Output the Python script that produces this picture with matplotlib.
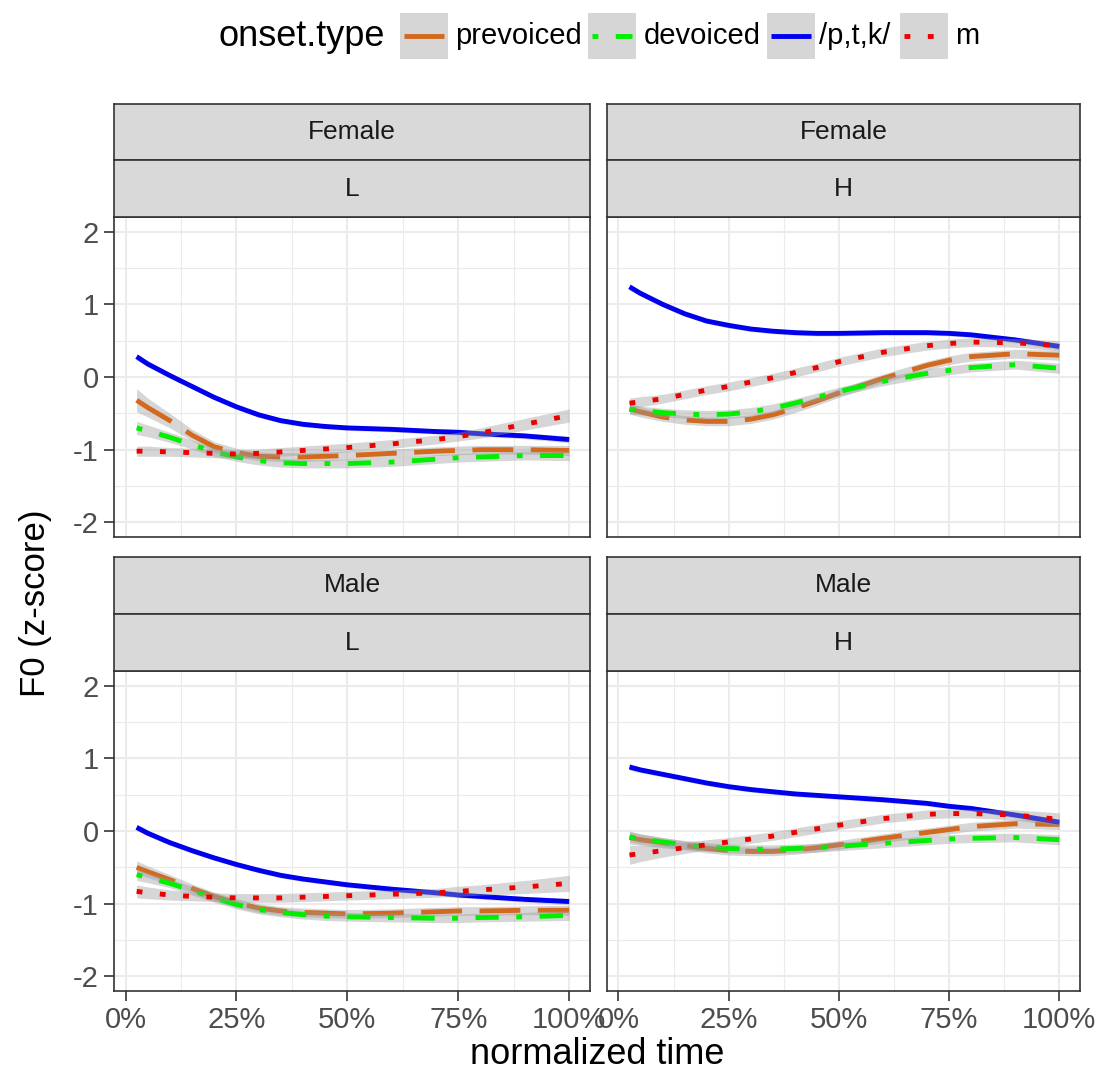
import numpy as np
import matplotlib
matplotlib.use("Agg")
import matplotlib.pyplot as plt
from matplotlib.patches import Rectangle
from matplotlib.lines import Line2D

# ---------------- data ----------------
time = [0.025, 0.05, 0.1, 0.15, 0.2, 0.25, 0.3, 0.35, 0.4, 0.45, 0.5, 0.6, 0.7, 0.75, 0.8, 0.9, 1.0]

onset_types = ["prevoiced", "devoiced", "/p,t,k/", "m"]
sex_levels = ["Female", "Male"]
tone_levels = ["L", "H"]

x_ticks = [0.0, 0.25, 0.5, 0.75, 1.0]
x_tick_labels = ["0%", "25%", "50%", "75%", "100%"]
y_ticks = [-2, -1, 0, 1, 2]
y_tick_labels = ["-2", "-1", "0", "1", "2"]

# Female, L
fl_prevoiced = [-0.32, -0.42, -0.60, -0.80, -0.96, -1.04, -1.09, -1.10, -1.10, -1.09, -1.08, -1.05, -1.02, -1.01, -1.00, -1.00, -1.01]
fl_devoiced  = [-0.70, -0.74, -0.83, -0.93, -1.03, -1.10, -1.15, -1.18, -1.19, -1.19, -1.19, -1.17, -1.13, -1.11, -1.10, -1.08, -1.08]
fl_ptk       = [0.28, 0.18, 0.02, -0.13, -0.28, -0.41, -0.52, -0.60, -0.65, -0.68, -0.70, -0.72, -0.75, -0.76, -0.78, -0.81, -0.86]
fl_m         = [-1.02, -1.02, -1.03, -1.04, -1.05, -1.06, -1.05, -1.03, -1.01, -0.99, -0.97, -0.92, -0.86, -0.82, -0.77, -0.65, -0.53]
# Female, H
fh_prevoiced = [-0.44, -0.48, -0.55, -0.59, -0.61, -0.61, -0.58, -0.52, -0.43, -0.33, -0.22, -0.02, 0.16, 0.23, 0.28, 0.32, 0.30]
fh_devoiced  = [-0.44, -0.46, -0.49, -0.51, -0.52, -0.51, -0.48, -0.43, -0.36, -0.28, -0.20, -0.06, 0.05, 0.09, 0.13, 0.17, 0.12]
fh_ptk       = [1.24, 1.15, 1.00, 0.87, 0.77, 0.71, 0.66, 0.63, 0.61, 0.60, 0.60, 0.61, 0.61, 0.60, 0.58, 0.51, 0.42]
fh_m         = [-0.36, -0.34, -0.30, -0.24, -0.18, -0.13, -0.07, -0.01, 0.06, 0.13, 0.21, 0.34, 0.43, 0.46, 0.48, 0.47, 0.43]
# Male, L
ml_prevoiced = [-0.50, -0.56, -0.67, -0.79, -0.90, -0.99, -1.06, -1.10, -1.12, -1.13, -1.14, -1.13, -1.11, -1.10, -1.10, -1.09, -1.09]
ml_devoiced  = [-0.60, -0.64, -0.72, -0.82, -0.92, -1.01, -1.08, -1.12, -1.15, -1.17, -1.18, -1.19, -1.20, -1.20, -1.19, -1.18, -1.16]
ml_ptk       = [0.05, -0.03, -0.16, -0.27, -0.37, -0.46, -0.54, -0.61, -0.66, -0.70, -0.74, -0.80, -0.85, -0.88, -0.90, -0.94, -0.97]
ml_m         = [-0.83, -0.85, -0.88, -0.90, -0.91, -0.92, -0.92, -0.92, -0.91, -0.90, -0.89, -0.87, -0.85, -0.83, -0.81, -0.77, -0.72]
# Male, H
mh_prevoiced = [-0.09, -0.12, -0.16, -0.20, -0.24, -0.27, -0.28, -0.28, -0.26, -0.23, -0.19, -0.10, -0.02, 0.02, 0.06, 0.10, 0.09]
mh_devoiced  = [-0.08, -0.11, -0.15, -0.19, -0.22, -0.24, -0.25, -0.25, -0.24, -0.23, -0.21, -0.17, -0.13, -0.11, -0.10, -0.09, -0.12]
mh_ptk       = [0.88, 0.84, 0.78, 0.72, 0.66, 0.61, 0.57, 0.54, 0.51, 0.49, 0.47, 0.43, 0.38, 0.34, 0.31, 0.22, 0.12]
mh_m         = [-0.33, -0.31, -0.27, -0.23, -0.19, -0.15, -0.11, -0.07, -0.02, 0.03, 0.08, 0.17, 0.23, 0.24, 0.24, 0.22, 0.16]

# standard-error half widths of the smooth ribbons
fl_prevoiced_se = [0.16, 0.13, 0.10, 0.08, 0.07, 0.06, 0.06, 0.06, 0.06, 0.06, 0.06, 0.06, 0.06, 0.06, 0.06, 0.06, 0.07]
fl_devoiced_se  = [0.09, 0.08, 0.07, 0.06, 0.06, 0.06, 0.06, 0.06, 0.06, 0.06, 0.06, 0.06, 0.06, 0.06, 0.06, 0.06, 0.07]
fl_ptk_se       = [0.045, 0.04, 0.035, 0.035, 0.035, 0.035, 0.035, 0.035, 0.035, 0.035, 0.035, 0.035, 0.035, 0.035, 0.035, 0.04, 0.045]
fl_m_se         = [0.07, 0.07, 0.06, 0.06, 0.06, 0.06, 0.06, 0.06, 0.06, 0.06, 0.06, 0.06, 0.06, 0.06, 0.07, 0.08, 0.09]
fh_prevoiced_se = [0.07, 0.07, 0.06, 0.06, 0.06, 0.06, 0.06, 0.06, 0.06, 0.06, 0.06, 0.06, 0.06, 0.06, 0.06, 0.06, 0.07]
fh_devoiced_se  = [0.07, 0.06, 0.06, 0.06, 0.06, 0.06, 0.06, 0.06, 0.06, 0.06, 0.06, 0.06, 0.06, 0.06, 0.06, 0.06, 0.07]
fh_ptk_se       = [0.045, 0.04, 0.035, 0.035, 0.035, 0.035, 0.035, 0.035, 0.035, 0.035, 0.035, 0.035, 0.035, 0.035, 0.035, 0.04, 0.045]
fh_m_se         = [0.07, 0.07, 0.06, 0.06, 0.06, 0.06, 0.06, 0.06, 0.06, 0.06, 0.06, 0.06, 0.06, 0.06, 0.06, 0.06, 0.07]
ml_prevoiced_se = [0.09, 0.08, 0.07, 0.06, 0.06, 0.06, 0.06, 0.06, 0.06, 0.06, 0.06, 0.06, 0.06, 0.06, 0.06, 0.06, 0.07]
ml_devoiced_se  = [0.08, 0.07, 0.06, 0.06, 0.06, 0.06, 0.06, 0.06, 0.06, 0.06, 0.06, 0.06, 0.06, 0.06, 0.06, 0.06, 0.07]
ml_ptk_se       = [0.045, 0.04, 0.035, 0.035, 0.035, 0.035, 0.035, 0.035, 0.035, 0.035, 0.035, 0.035, 0.035, 0.035, 0.035, 0.04, 0.045]
ml_m_se         = [0.09, 0.08, 0.07, 0.06, 0.06, 0.06, 0.06, 0.06, 0.06, 0.06, 0.06, 0.06, 0.06, 0.07, 0.07, 0.09, 0.11]
mh_prevoiced_se = [0.09, 0.08, 0.07, 0.06, 0.06, 0.06, 0.06, 0.06, 0.06, 0.06, 0.06, 0.06, 0.06, 0.06, 0.06, 0.06, 0.07]
mh_devoiced_se  = [0.07, 0.07, 0.06, 0.06, 0.06, 0.06, 0.06, 0.06, 0.06, 0.06, 0.06, 0.06, 0.06, 0.06, 0.06, 0.06, 0.07]
mh_ptk_se       = [0.045, 0.04, 0.035, 0.035, 0.035, 0.035, 0.035, 0.035, 0.035, 0.035, 0.035, 0.035, 0.035, 0.035, 0.035, 0.04, 0.045]
mh_m_se         = [0.13, 0.11, 0.09, 0.08, 0.07, 0.06, 0.06, 0.06, 0.06, 0.06, 0.06, 0.06, 0.06, 0.06, 0.06, 0.07, 0.09]

panels = {
    ("Female", "L"): ([fl_prevoiced, fl_devoiced, fl_ptk, fl_m],
                      [fl_prevoiced_se, fl_devoiced_se, fl_ptk_se, fl_m_se]),
    ("Female", "H"): ([fh_prevoiced, fh_devoiced, fh_ptk, fh_m],
                      [fh_prevoiced_se, fh_devoiced_se, fh_ptk_se, fh_m_se]),
    ("Male", "L"): ([ml_prevoiced, ml_devoiced, ml_ptk, ml_m],
                    [ml_prevoiced_se, ml_devoiced_se, ml_ptk_se, ml_m_se]),
    ("Male", "H"): ([mh_prevoiced, mh_devoiced, mh_ptk, mh_m],
                    [mh_prevoiced_se, mh_devoiced_se, mh_ptk_se, mh_m_se]),
}

# ---------------- style ----------------
plt.rcParams["font.family"] = ["Liberation Sans", "DejaVu Sans"]
plt.rcParams["lines.scale_dashes"] = False

W, H = 1101, 1077
fig = plt.figure(figsize=(W / 100, H / 100), dpi=100)
fig.patch.set_facecolor("white")

colors = ["#D2691E", "#00EE00", "#0000EE", "#EE0000"]
U = 4.2  # dash unit in points
styles = [(0, (7 * U, 3 * U)), (0, (U, 3 * U, 4 * U, 3 * U)), "solid", (0, (U, 3 * U))]
LW = 3.5

TICK_COLOR = "#4D4D4D"
FRAME = "#333333"
GRID = "#EBEBEB"
STRIP_FILL = "#D9D9D9"
RIBBON = "#999999"


def fig_rect(x0, y0, x1, y1):
    return [x0 / W, 1 - y1 / H, (x1 - x0) / W, (y1 - y0) / H]


col_x = [(114, 590), (607, 1080)]
row_axes_y = [(217, 537), (671, 991)]
row_strip_y = [((104, 160), (160, 217)), ((557, 614), (614, 671))]

for ri, sex in enumerate(sex_levels):
    for ci, tone in enumerate(tone_levels):
        x0, x1 = col_x[ci]
        y0, y1 = row_axes_y[ri]
        ax = fig.add_axes(fig_rect(x0, y0, x1, y1))
        ax.set_facecolor("white")
        ax.set_xlim(-0.026, 1.047)
        ax.set_ylim(-2.2, 2.2)
        ax.set_xticks(x_ticks)
        ax.set_xticks([0.125, 0.375, 0.625, 0.875], minor=True)
        ax.set_yticks(y_ticks)
        ax.set_yticks([-1.5, -0.5, 0.5, 1.5], minor=True)
        ax.grid(True, which="major", color=GRID, lw=1.5, zorder=0)
        ax.grid(True, which="minor", color=GRID, lw=0.8, zorder=0)
        ax.set_axisbelow(True)
        for s in ax.spines.values():
            s.set_color(FRAME)
            s.set_linewidth(1.2)
        ax.tick_params(which="minor", length=0)
        ax.tick_params(which="major", length=7, width=1.2, color=FRAME,
                       labelsize=21, labelcolor=TICK_COLOR, pad=4)
        if ri == 1:
            ax.set_xticklabels(x_tick_labels)
        else:
            ax.tick_params(axis="x", which="both", bottom=False, labelbottom=False)
        if ci == 0:
            ax.set_yticklabels(y_tick_labels)
        else:
            ax.tick_params(axis="y", which="both", left=False, labelleft=False)

        ys, ses = panels[(sex, tone)]
        t = np.array(time)
        for k in range(len(onset_types)):
            y = np.array(ys[k])
            se = np.array(ses[k])
            ax.fill_between(t, y - se, y + se, color=RIBBON, alpha=0.4, lw=0, zorder=2 + 2 * k)
            ax.plot(t, y, color=colors[k], linestyle=styles[k], lw=LW,
                    solid_capstyle="butt", dash_capstyle="butt",
                    solid_joinstyle="round", zorder=3 + 2 * k)

        # strips
        for si, (sy0, sy1) in enumerate(row_strip_y[ri]):
            sax = fig.add_axes(fig_rect(x0, sy0, x1, sy1))
            sax.set_facecolor(STRIP_FILL)
            sax.set_xticks([])
            sax.set_yticks([])
            for s in sax.spines.values():
                s.set_color(FRAME)
                s.set_linewidth(1.2)
            label = sex if si == 0 else tone
            sax.text(0.5, 0.5, label, ha="center", va="center", fontsize=19,
                     color="#1A1A1A", transform=sax.transAxes)

# axis titles
fig.text(36 / W, 1 - 603 / H, "F0 (z-score)", rotation=90, ha="center", va="center",
         fontsize=25, color="black")
fig.text(597 / W, 1 - 1064 / H, "normalized time", ha="center", va="baseline",
         fontsize=26, color="black")

# legend (overlay in pixel coordinates)
lax = fig.add_axes([0, 0, 1, 1])
lax.set_xlim(0, W)
lax.set_ylim(H, 0)
lax.axis("off")
lax.patch.set_visible(False)

lax.text(218, 37, "onset.type", ha="left", va="center", fontsize=26, color="black")
key_x = [400, 588, 767, 900]
lab_x = [455, 644, 819, 955]
for k, name in enumerate(onset_types):
    lax.add_patch(Rectangle((key_x[k], 13), 48, 46, facecolor=RIBBON, alpha=0.4, lw=0))
    lax.add_line(Line2D([key_x[k] + 4, key_x[k] + 44], [36, 36], color=colors[k],
                        linestyle=styles[k], lw=LW, solid_capstyle="butt",
                        dash_capstyle="butt"))
    lax.text(lab_x[k], 36, name, ha="left", va="center", fontsize=21, color="black")

fig.savefig("out.png", dpi=100, facecolor="white")
